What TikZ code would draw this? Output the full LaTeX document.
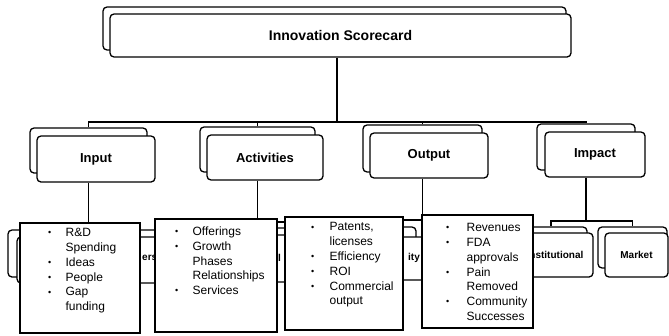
\documentclass[tikz,border=0pt]{standalone}
\usepackage{fontspec}
\setmainfont{Liberation Sans}
\newlength\bgap
\newcommand{\bl}[1]{\makebox[\bgap][l]{\makebox[0pt]{\raisebox{0.8pt}{\fontsize{9}{9}\selectfont\textbullet}}}#1}
\newcommand{\cl}[1]{\hspace*{\bgap}#1}
\begin{document}
\begin{tikzpicture}[x=1pt,y=-1pt,
 shellbox/.style={draw, fill=white, line width=1.3pt, rounded corners=4pt, inner sep=0pt},
 frontbox/.style={shellbox, font=\fontsize{13}{15}\selectfont\bfseries},
 smallfront/.style={shellbox, font=\fontsize{10}{12}\selectfont\bfseries},
 bulletbox/.style={draw, fill=white, line width=1.2pt, inner sep=0pt},
 btext/.style={inner sep=0pt, anchor=base west, font=\fontsize{12}{14.8}\selectfont},
 frag/.style={inner sep=0pt, font=\fontsize{10}{12}\selectfont\bfseries},
 conn/.style={line width=1.3pt}]
\useasboundingbox (0,0) rectangle (669,335);
\fill[white] (0,0) rectangle (669,335);

% ---------- hidden third level (mostly covered) ----------
\draw[shellbox] (8,230) rectangle (170,277);
\draw[shellbox] (17,237) rectangle (176,283);
\node[frag, anchor=west] (fa) at (142,258) {ers};

\draw[conn] (240,222) -- (300,222);
\draw[shellbox] (200,228) rectangle (300,276);
\draw[shellbox] (207,235) rectangle (310,282);
\node[frag, anchor=west] (fb) at (278,258) {l};

\draw[conn] (395,220) -- (430,220);
\draw[shellbox] (350,227) rectangle (416,274);
\draw[shellbox] (357,237) rectangle (440,280);
\node[frag, anchor=west] (fc) at (408,258) {ity};

% ---------- Impact children ----------
\node[shellbox, minimum width=72, minimum height=45] (isS) at (551,249.5) {};
\node[smallfront, minimum width=76, minimum height=44] (isF) at (555,255) {Institutional};
\node[shellbox, minimum width=69, minimum height=41] (mkS) at (632.5,247.5) {};
\node[smallfront, minimum width=63, minimum height=44] (mkF) at (636.5,255) {Market};

% ---------- bullet boxes ----------
\node[bulletbox, minimum width=120, minimum height=110] (b1) at (80,278) {};
\node[bulletbox, minimum width=122, minimum height=113] (b2) at (216,275.5) {};
\node[bulletbox, minimum width=118, minimum height=113] (b3) at (344,273.5) {};
\node[bulletbox, minimum width=111, minimum height=113] (b4) at (477.5,271.5) {};

\node[btext] (t1) at ([shift={(30,14.3)}]b1.north west) {\setlength\bgap{16pt}%
 \begin{tabular}[t]{@{}l@{}}\bl{R\&D}\\ \cl{Spending}\\ \bl{Ideas}\\ \bl{People}\\ \bl{Gap}\\ \cl{funding}\end{tabular}};
\node[btext] (t2) at ([shift={(22,17)}]b2.north west) {\setlength\bgap{16pt}%
 \begin{tabular}[t]{@{}l@{}}\bl{Offerings}\\ \bl{Growth}\\ \cl{Phases}\\ \cl{Relationships}\\ \bl{Services}\end{tabular}};
\node[btext] (t3) at ([shift={(28,14.5)}]b3.north west) {\setlength\bgap{17pt}%
 \begin{tabular}[t]{@{}l@{}}\bl{Patents,}\\ \cl{licenses}\\ \bl{Efficiency}\\ \bl{ROI}\\ \bl{Commercial}\\ \cl{output}\end{tabular}};
\node[btext] (t4) at ([shift={(26,17.3)}]b4.north west) {\setlength\bgap{19pt}%
 \begin{tabular}[t]{@{}l@{}}\bl{Revenues}\\ \bl{FDA}\\ \cl{approvals}\\ \bl{Pain}\\ \cl{Removed}\\ \bl{Community}\\ \cl{Successes}\end{tabular}};

% ---------- top level ----------
\node[shellbox, minimum width=463, minimum height=43] (topS) at (334.5,28.5) {};
\node[frontbox, font=\fontsize{14}{16}\selectfont\bfseries, minimum width=461, minimum height=43] (topF) at (340.5,35.5) {Innovation Scorecard};

% ---------- second level ----------
\node[shellbox, minimum width=117, minimum height=45] (inS) at (88.5,150.5) {};
\node[frontbox, minimum width=118, minimum height=46] (inF) at (96,159) {Input};
\node[shellbox, minimum width=115, minimum height=45] (acS) at (257.5,149.5) {};
\node[frontbox, minimum width=116, minimum height=45] (acF) at (265,157.5) {Activities};
\node[shellbox, minimum width=119, minimum height=47] (ouS) at (422.5,148.5) {};
\node[frontbox, minimum width=118, minimum height=45] (ouF) at (429,155.5) {Output};
\node[shellbox, minimum width=98, minimum height=46] (imS) at (586,147) {};
\node[frontbox, minimum width=100, minimum height=45] (imF) at (595,154.5) {Impact};

% ---------- connectors ----------
\coordinate (tj) at (337,122);
\draw[conn] (tj |- topF.south) -- (tj);
\draw[conn] (inS.north) |- (tj -| imS.north) -- (imS.north);
\draw[conn] (acS.north) -- (acS.north |- tj);
\draw[conn] (ouS.north) -- (ouS.north |- tj);

\draw[conn] (inS.north |- inF.south) -- (inS.north |- b1.north);
\draw[conn] (acS.north |- acF.south) -- (acS.north |- b2.north);
\draw[conn] (ouS.north |- ouF.south) -- (ouS.north |- b4.north);

\coordinate (ij) at (586,221);
\draw[conn] (imS.north |- imF.south) -- (ij);
\draw[conn] (isS.north) |- (ij) -| (mkS.north);
\end{tikzpicture}
\end{document}
